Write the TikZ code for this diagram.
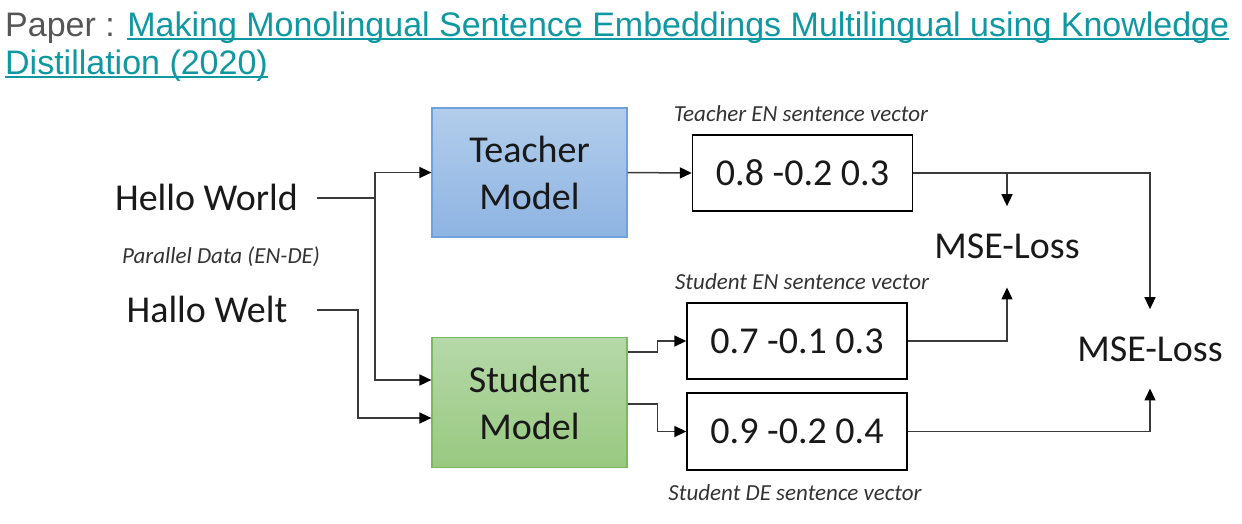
\documentclass[tikz,border=0pt]{standalone}
\usepackage{fontspec}
\setmainfont{Carlito}
\newfontfamily\arialfont{Liberation Sans}
\usetikzlibrary{arrows.meta}
\definecolor{linkteal}{HTML}{0F98A2}
\definecolor{papergray}{HTML}{555555}
\definecolor{connc}{HTML}{3A3A3A}
\definecolor{tblueT}{HTML}{B2CDEB}
\definecolor{tblueB}{HTML}{8EB4E2}
\definecolor{tblueD}{HTML}{6FA1DA}
\definecolor{sgreenT}{HTML}{B6D8A9}
\definecolor{sgreenB}{HTML}{98C980}
\definecolor{sgreenD}{HTML}{7DB860}
\newcommand\mylinktext[1]{\setbox0\hbox{#1}\rlap{\color{linkteal}\rule[-4pt]{\wd0}{2pt}}\box0}
\tikzset{
  bigtext/.style={font=\fontsize{38}{47}\selectfont, text=black!90, inner sep=0pt},
  smalllabel/.style={font=\fontsize{23}{27}\itshape\selectfont, text=black!80, inner sep=0pt, anchor=base},
  modelbox/.style={bigtext, minimum width=195pt, align=center, line width=1.2pt},
  vecbox/.style={bigtext, draw=black, line width=1.4pt, fill=white, minimum width=220pt, minimum height=76pt},
  conn/.style={draw=connc, line width=1.5pt},
  arr/.style={conn, -{Triangle[length=12pt,width=11pt,color=black]}},
}
\begin{document}
\begin{tikzpicture}[x=1pt,y=-1pt]
\useasboundingbox (0,0) rectangle (1242,523);
% title
\node[anchor=base west, inner sep=0pt, font=\arialfont\fontsize{34}{38}\selectfont] (title1) at (5,36)
  {\color{papergray}Paper : \color{linkteal}\mylinktext{Making Monolingual Sentence Embeddings Multilingual using Knowledge}};
\node[anchor=base west, inner sep=0pt, font=\arialfont\fontsize{34}{38}\selectfont, text=linkteal] (title2) at (5,74)
  {\mylinktext{Distillation (2020)}};
% inputs
\node[bigtext, anchor=base] (hw) at (206.5,210) {Hello World};
\node[bigtext, anchor=base] (hl) at (207,322) {Hallo Welt};
\node[smalllabel] (pd) at (221,263) {Parallel Data (EN-DE)};
% models
\node[modelbox, minimum height=129pt, top color=tblueT, bottom color=tblueB, draw=tblueD] (teacher) at (529.5,172.5) {Teacher\\Model};
\node[modelbox, minimum height=130pt, top color=sgreenT, bottom color=sgreenB, draw=sgreenD] (student) at (529.5,402.5) {Student\\Model};
% vectors
\node[vecbox] (tvec) at (802.5,173) {0.8 -0.2 0.3};
\node[vecbox] (sen) at (797,341) {0.7 -0.1 0.3};
\node[vecbox, minimum height=77pt] (sde) at (797,431.5) {0.9 -0.2 0.4};
\node[smalllabel] (tvl) at (801,121) {Teacher EN sentence vector};
\node[smalllabel] (senl) at (802,289) {Student EN sentence vector};
\node[smalllabel] (sdel) at (795,500) {Student DE sentence vector};
% losses
\node[bigtext, anchor=base] (mse1) at (1007,258) {MSE-Loss};
\node[bigtext, anchor=base] (mse2) at (1150,361) {MSE-Loss};
% connectors
\coordinate (hwe) at (317,198);
\coordinate (j1) at (375,198);
\coordinate (hle) at (317,310);
\coordinate (j2) at (358,310);
\draw[conn] (hwe) -- (j1);
\draw[arr] (j1) |- (teacher.west);
\draw[arr] (j1) |- ([yshift=22.5pt]student.west);
\draw[arr] (hle) -- (j2) |- ([yshift=-15.5pt]student.west);
\draw[arr] (teacher.east) -- (tvec.west);
\draw[arr] ([yshift=50.5pt]student.east) -- ++(30,0) |- (sen.west);
\draw[arr] ([yshift=-1.5pt]student.east) -- ++(30,0) |- (sde.west);
\draw[arr, shorten >=27pt] (tvec.east) -| (mse2.north);
\draw[arr, shorten >=27pt] (tvec.east -| mse1.north) -- (mse1.north);
\draw[arr, shorten >=29pt] (sen.east) -| (mse1.south);
\draw[arr, shorten >=27pt] (sde.east) -| (mse2.south);
\end{tikzpicture}
\end{document}
